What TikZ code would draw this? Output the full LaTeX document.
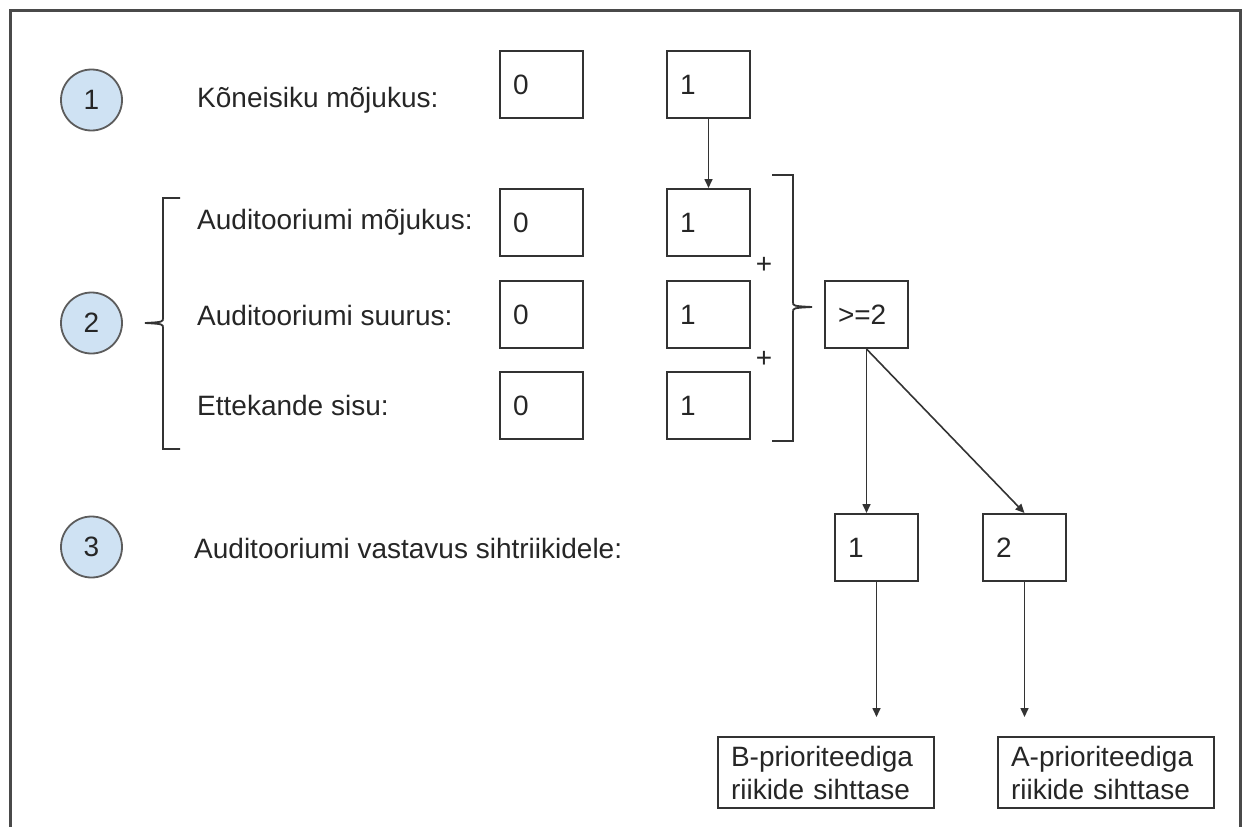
\documentclass[tikz,border=0pt]{standalone}
\usepackage{fontspec}
\setmainfont{Liberation Sans}
\usetikzlibrary{arrows.meta}
\definecolor{circfill}{HTML}{CFE2F3}
\definecolor{linegray}{HTML}{333333}
\definecolor{framegray}{HTML}{4A4A4A}
\tikzset{
  valbox/.style={draw=linegray, line width=2pt, minimum height=67pt, text width=57pt, inner xsep=13pt, align=left},
  stepcirc/.style={circle, draw=linegray!80, fill=circfill, line width=1.8pt, minimum size=61pt, inner sep=0pt},
  rowtext/.style={anchor=west, inner sep=0pt},
  priobox/.style={draw=linegray, line width=2pt, text width=190pt, inner xsep=13pt, inner ysep=5pt, minimum height=71pt, align=left},
  arr/.style={-{Triangle[length=9pt,width=8pt]}, line width=1.6pt, draw=linegray},
}
\begin{document}
\begin{tikzpicture}[x=1pt, y=-1pt, font=\fontsize{28}{33}\selectfont, text=black!85]
            \useasboundingbox (0,0) rectangle (1242,827);
            \draw[framegray, line width=3pt] (10,10) rectangle (1240,870);

            % Step circles
            \node[stepcirc] (StepOne) at (91.5,100) {1};
            \node[stepcirc] (StepTwo) at (91.5,323) {2};
            \node[stepcirc] (StepThree) at (91.5,547) {3};

            % Row labels
            \node[rowtext] (SpeakerText) at (197,100) {Kõneisiku mõjukus:};
            \node[rowtext] (AudInflText) at (197,222) {Auditooriumi mõjukus:};
            \node[rowtext] (AudSizeText) at (197,315) {Auditooriumi suurus:};
            \node[rowtext] (ContentText) at (197,405) {Ettekande sisu:};
            \node[rowtext] (TargetText) at (194,548) {Auditooriumi vastavus sihtriikidele:};

            % Value boxes
            \node[valbox] (SpeakerZero) at (541.5,84.5) {0};
            \node[valbox] (SpeakerOne) at (708.5,84.5) {1};
            \node[valbox] (AudInflZero) at (541.5,222.5) {0};
            \node[valbox] (AudInflOne) at (708.5,222.5) {1};
            \node[valbox] (AudSizeZero) at (541.5,314.5) {0};
            \node[valbox] (AudSizeOne) at (708.5,314.5) {1};
            \node[valbox] (ContentZero) at (541.5,405.5) {0};
            \node[valbox] (ContentOne) at (708.5,405.5) {1};

            % Sum
            \node[inner sep=0pt] (PlusOne) at (764,265) {+};
            \node[inner sep=0pt] (PlusTwo) at (764,359) {+};
            \node[valbox] (AtLeastTwo) at (866.5,314.5) {>=2};

            % Results
            \node[valbox] (TargetOne) at (876.5,547.5) {1};
            \node[valbox] (TargetTwo) at (1024.5,547.5) {2};
            \node[priobox] (PrioB) at (826,772.5) {B-prioriteediga\\riikide sihttase};
            \node[priobox] (PrioA) at (1106,772.5) {A-prioriteediga\\riikide sihttase};

            % Brackets
            \draw[linegray, line width=1.8pt] (180,198) -- (163,198) -- (163,318)
                .. controls (163,322) .. (145,323) .. controls (163,324) .. (163,328)
                -- (163,449) -- (180,449);
            \draw[linegray, line width=1.8pt] (772,175) -- (793,175) -- (793,302)
                .. controls (793,306) .. (812,307) .. controls (793,308) .. (793,312)
                -- (793,441) -- (772,441);

            % Arrows
            \draw[arr] (SpeakerOne) -- (AudInflOne);
            \draw[arr] (AtLeastTwo.south) -- (AtLeastTwo.south |- TargetOne.north);
            \draw[arr] (AtLeastTwo.south) -- (TargetTwo.north);
            \draw[arr, shorten >=19pt] (TargetOne.south) -- (TargetOne.south |- PrioB.north);
            \draw[arr, shorten >=19pt] (TargetTwo.south) -- (TargetTwo.south |- PrioA.north);
        \end{tikzpicture}
\end{document}
